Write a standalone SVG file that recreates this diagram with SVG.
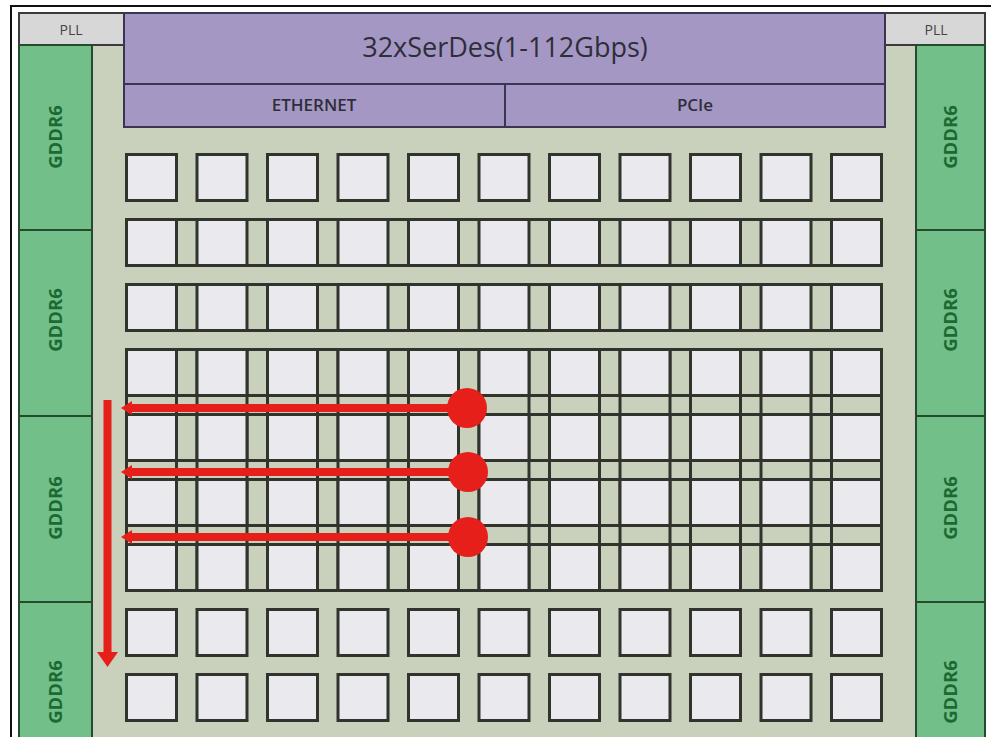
<svg xmlns="http://www.w3.org/2000/svg" xmlns:xlink="http://www.w3.org/1999/xlink" width="991" height="737" viewBox="0 0 991 737">
<style>
  .bg{fill:#c9d0bc}
  .pll{fill:#d7d7d7;stroke:#3a3a3a;stroke-width:2}
  .pllt{font-family:"Open Sans","Liberation Sans",sans-serif;font-size:14px;fill:#444;text-anchor:middle}
  .serdes{fill:#a597c3;stroke:#3a3550;stroke-width:2}
  .title{font-family:"Open Sans","Liberation Sans",sans-serif;font-size:27px;fill:#2e2e3a;text-anchor:middle}
  .sub{font-family:"Open Sans","Liberation Sans",sans-serif;font-size:17px;font-weight:600;fill:#2e2e3a;text-anchor:middle}
  .gddr{fill:#72bf89;stroke:#244a30;stroke-width:2}
  .gt{font-family:"Open Sans","Liberation Sans",sans-serif;font-size:18.5px;font-weight:700;fill:#1c6a33;text-anchor:middle}
  .tile{fill:#e9e9ee;stroke:#30342d;stroke-width:3}
  .mesh{stroke:#30342d;stroke-width:3;fill:none}
  .red{fill:#e61f1b}
  .redl{stroke:#e61f1b;stroke-width:8;fill:none}
</style>
<defs>
  <rect id="tile" x="1.5" y="1.5" width="50" height="46" class="tile"/>
</defs>
<rect width="991" height="737" fill="#ffffff"/>
<rect x="11" y="6" width="990" height="740" fill="none" stroke="#111" stroke-width="2"/>
<rect x="19" y="13" width="966" height="730" class="bg" stroke="#333" stroke-width="2"/>

<g id="pll-left"><rect x="19" y="13" width="105" height="32" class="pll"/><text x="71" y="35" class="pllt">PLL</text></g>
<g id="pll-right"><rect x="885" y="13" width="100" height="32" class="pll"/><text x="936" y="35" class="pllt">PLL</text></g>

<g id="serdes"><rect x="124" y="13" width="761" height="71" class="serdes"/><text x="505" y="57" class="title">32xSerDes(1-112Gbps)</text></g>
<g id="ethernet"><rect x="124" y="84" width="381" height="43" class="serdes"/><text x="314" y="111" class="sub">ETHERNET</text></g>
<g id="pcie"><rect x="505" y="84" width="380" height="43" class="serdes"/><text x="695" y="111" class="sub">PCIe</text></g>

<g id="gddr6-l1"><rect x="19" y="45" width="73" height="185" class="gddr"/><text transform="translate(62,137) rotate(-90)" class="gt">GDDR6</text></g>
<g id="gddr6-l2"><rect x="19" y="230" width="73" height="186" class="gddr"/><text transform="translate(62,320) rotate(-90)" class="gt">GDDR6</text></g>
<g id="gddr6-l3"><rect x="19" y="416" width="73" height="186" class="gddr"/><text transform="translate(62,508) rotate(-90)" class="gt">GDDR6</text></g>
<g id="gddr6-l4"><rect x="19" y="602" width="73" height="150" class="gddr"/><text transform="translate(62,692) rotate(-90)" class="gt">GDDR6</text></g>
<g id="gddr6-r1"><rect x="916" y="45" width="69" height="185" class="gddr"/><text transform="translate(957,137) rotate(-90)" class="gt">GDDR6</text></g>
<g id="gddr6-r2"><rect x="916" y="230" width="69" height="186" class="gddr"/><text transform="translate(957,320) rotate(-90)" class="gt">GDDR6</text></g>
<g id="gddr6-r3"><rect x="916" y="416" width="69" height="186" class="gddr"/><text transform="translate(957,508) rotate(-90)" class="gt">GDDR6</text></g>
<g id="gddr6-r4"><rect x="916" y="602" width="69" height="150" class="gddr"/><text transform="translate(957,692) rotate(-90)" class="gt">GDDR6</text></g>

<g id="mesh" class="mesh">
  <path d="M125 219.5H883M125 265.5H883M125 284.5H883M125 330.5H883M125 349.5H883M125 395.5H883M125 414.5H883M125 460.5H883M125 479.5H883M125 525.5H883M125 544.5H883M125 590.5H883"/>
  <path d="M126.5 349V591M176.5 349V591M197 349V591M247 349V591M267.5 349V591M317.5 349V591M338 349V591M388 349V591M408.5 349V591M458.5 349V591M479 349V591M529 349V591M549.5 349V591M599.5 349V591M620 349V591M670 349V591M690.5 349V591M740.5 349V591M761 349V591M811 349V591M831.5 349V591M881.5 349V591"/>
</g>

<g id="tiles">
  <g id="r1">
    <use xlink:href="#tile" x="125" y="153"/><use xlink:href="#tile" x="195.5" y="153"/><use xlink:href="#tile" x="266" y="153"/><use xlink:href="#tile" x="336.5" y="153"/><use xlink:href="#tile" x="407" y="153"/><use xlink:href="#tile" x="477.5" y="153"/><use xlink:href="#tile" x="548" y="153"/><use xlink:href="#tile" x="618.5" y="153"/><use xlink:href="#tile" x="689" y="153"/><use xlink:href="#tile" x="759.5" y="153"/><use xlink:href="#tile" x="830" y="153"/>
  </g>
  <g id="r2">
    <use xlink:href="#tile" x="125" y="218"/><use xlink:href="#tile" x="195.5" y="218"/><use xlink:href="#tile" x="266" y="218"/><use xlink:href="#tile" x="336.5" y="218"/><use xlink:href="#tile" x="407" y="218"/><use xlink:href="#tile" x="477.5" y="218"/><use xlink:href="#tile" x="548" y="218"/><use xlink:href="#tile" x="618.5" y="218"/><use xlink:href="#tile" x="689" y="218"/><use xlink:href="#tile" x="759.5" y="218"/><use xlink:href="#tile" x="830" y="218"/>
  </g>
  <g id="r3">
    <use xlink:href="#tile" x="125" y="283"/><use xlink:href="#tile" x="195.5" y="283"/><use xlink:href="#tile" x="266" y="283"/><use xlink:href="#tile" x="336.5" y="283"/><use xlink:href="#tile" x="407" y="283"/><use xlink:href="#tile" x="477.5" y="283"/><use xlink:href="#tile" x="548" y="283"/><use xlink:href="#tile" x="618.5" y="283"/><use xlink:href="#tile" x="689" y="283"/><use xlink:href="#tile" x="759.5" y="283"/><use xlink:href="#tile" x="830" y="283"/>
  </g>
  <g id="r4">
    <use xlink:href="#tile" x="125" y="348"/><use xlink:href="#tile" x="195.5" y="348"/><use xlink:href="#tile" x="266" y="348"/><use xlink:href="#tile" x="336.5" y="348"/><use xlink:href="#tile" x="407" y="348"/><use xlink:href="#tile" x="477.5" y="348"/><use xlink:href="#tile" x="548" y="348"/><use xlink:href="#tile" x="618.5" y="348"/><use xlink:href="#tile" x="689" y="348"/><use xlink:href="#tile" x="759.5" y="348"/><use xlink:href="#tile" x="830" y="348"/>
  </g>
  <g id="r5">
    <use xlink:href="#tile" x="125" y="413"/><use xlink:href="#tile" x="195.5" y="413"/><use xlink:href="#tile" x="266" y="413"/><use xlink:href="#tile" x="336.5" y="413"/><use xlink:href="#tile" x="407" y="413"/><use xlink:href="#tile" x="477.5" y="413"/><use xlink:href="#tile" x="548" y="413"/><use xlink:href="#tile" x="618.5" y="413"/><use xlink:href="#tile" x="689" y="413"/><use xlink:href="#tile" x="759.5" y="413"/><use xlink:href="#tile" x="830" y="413"/>
  </g>
  <g id="r6">
    <use xlink:href="#tile" x="125" y="478"/><use xlink:href="#tile" x="195.5" y="478"/><use xlink:href="#tile" x="266" y="478"/><use xlink:href="#tile" x="336.5" y="478"/><use xlink:href="#tile" x="407" y="478"/><use xlink:href="#tile" x="477.5" y="478"/><use xlink:href="#tile" x="548" y="478"/><use xlink:href="#tile" x="618.5" y="478"/><use xlink:href="#tile" x="689" y="478"/><use xlink:href="#tile" x="759.5" y="478"/><use xlink:href="#tile" x="830" y="478"/>
  </g>
  <g id="r7">
    <use xlink:href="#tile" x="125" y="543"/><use xlink:href="#tile" x="195.5" y="543"/><use xlink:href="#tile" x="266" y="543"/><use xlink:href="#tile" x="336.5" y="543"/><use xlink:href="#tile" x="407" y="543"/><use xlink:href="#tile" x="477.5" y="543"/><use xlink:href="#tile" x="548" y="543"/><use xlink:href="#tile" x="618.5" y="543"/><use xlink:href="#tile" x="689" y="543"/><use xlink:href="#tile" x="759.5" y="543"/><use xlink:href="#tile" x="830" y="543"/>
  </g>
  <g id="r8">
    <use xlink:href="#tile" x="125" y="608"/><use xlink:href="#tile" x="195.5" y="608"/><use xlink:href="#tile" x="266" y="608"/><use xlink:href="#tile" x="336.5" y="608"/><use xlink:href="#tile" x="407" y="608"/><use xlink:href="#tile" x="477.5" y="608"/><use xlink:href="#tile" x="548" y="608"/><use xlink:href="#tile" x="618.5" y="608"/><use xlink:href="#tile" x="689" y="608"/><use xlink:href="#tile" x="759.5" y="608"/><use xlink:href="#tile" x="830" y="608"/>
  </g>
  <g id="r9">
    <use xlink:href="#tile" x="125" y="673"/><use xlink:href="#tile" x="195.5" y="673"/><use xlink:href="#tile" x="266" y="673"/><use xlink:href="#tile" x="336.5" y="673"/><use xlink:href="#tile" x="407" y="673"/><use xlink:href="#tile" x="477.5" y="673"/><use xlink:href="#tile" x="548" y="673"/><use xlink:href="#tile" x="618.5" y="673"/><use xlink:href="#tile" x="689" y="673"/><use xlink:href="#tile" x="759.5" y="673"/><use xlink:href="#tile" x="830" y="673"/>
  </g>
</g>

<g id="connectors">
  <path class="redl" d="M131 408H467M131 472H468M131 537H468"/>
  <polygon class="red" points="121,408 132,401 132,415"/>
  <polygon class="red" points="121,472 132,465 132,479"/>
  <polygon class="red" points="121,537 132,530 132,544"/>
  <circle class="red" cx="467" cy="408" r="20"/>
  <circle class="red" cx="468" cy="472" r="20"/>
  <circle class="red" cx="468" cy="537" r="20"/>
  <rect class="red" x="103.5" y="400" width="8" height="254"/>
  <polygon class="red" points="97,652 118,652 107.5,667"/>
</g>
</svg>
